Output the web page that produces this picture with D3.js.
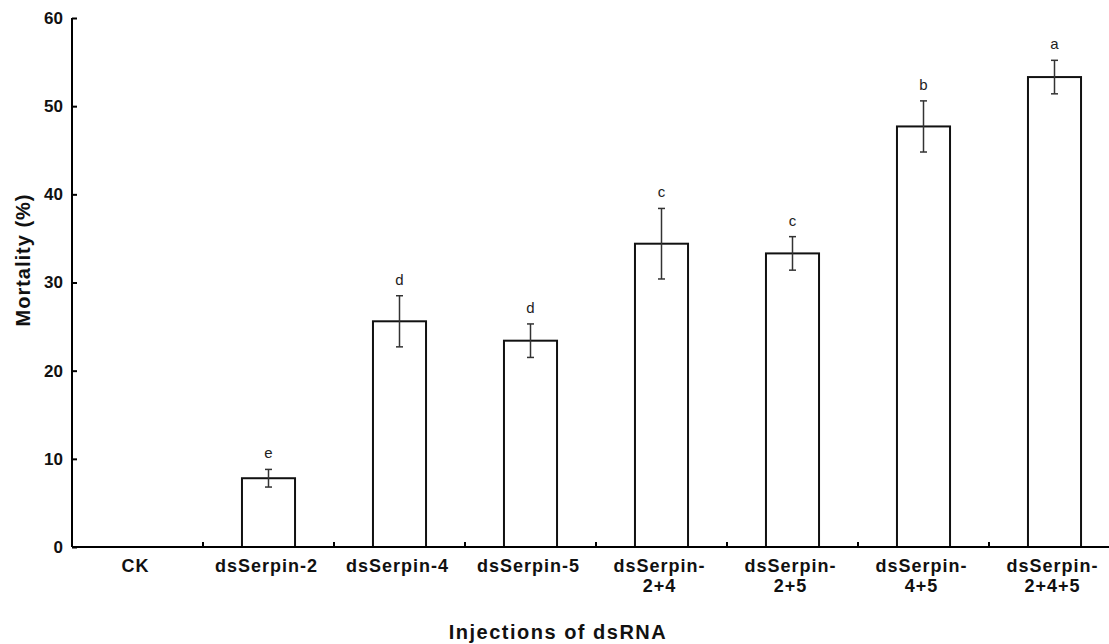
<!DOCTYPE html>
<html>
<head>
<meta charset="utf-8">
<script src="https://cdn.jsdelivr.net/npm/d3@7"></script>
<style>
  body { margin: 0; background: #fff; }
  svg { display: block; font-family: "Liberation Sans", Arial, sans-serif; }
</style>
</head>
<body>
<div id="chart"></div>
<script>
// data
const categories = ["CK", "dsSerpin-2", "dsSerpin-4", "dsSerpin-5", "dsSerpin-2+4", "dsSerpin-2+5", "dsSerpin-4+5", "dsSerpin-2+4+5"];
const labelLines = [["CK"], ["dsSerpin-2"], ["dsSerpin-4"], ["dsSerpin-5"], ["dsSerpin-", "2+4"], ["dsSerpin-", "2+5"], ["dsSerpin-", "4+5"], ["dsSerpin-", "2+4+5"]];
const mortality = [0, 7.8, 25.6, 23.4, 34.4, 33.3, 47.7, 53.3];
const errors = [0, 1.0, 2.9, 1.9, 4.0, 1.9, 2.9, 1.9];
const letters = ["", "e", "d", "d", "c", "c", "b", "a"];
const yTicks = [0, 10, 20, 30, 40, 50, 60];

const width = 1109, height = 644;
const plotLeft = 72, plotRight = 1120, plotTop = 18, plotBottom = 547;

const svg = d3.select("#chart").append("svg")
  .attr("width", width)
  .attr("height", height);

const x = d3.scaleBand().domain(categories).range([plotLeft, plotRight]).padding(0);
const y = d3.scaleLinear().domain([0, 60]).range([plotBottom, plotTop]);
const barW = x.bandwidth() * 0.405;

const rows = categories.map((c, i) => ({ cat: c, v: mortality[i], e: errors[i], l: letters[i], lines: labelLines[i] }));

// bars
svg.selectAll("rect.bar")
  .data(rows.filter(d => d.v > 0))
  .enter().append("rect")
  .attr("class", "bar")
  .attr("x", d => x(d.cat) + (x.bandwidth() - barW) / 2)
  .attr("y", d => y(d.v))
  .attr("width", barW)
  .attr("height", d => y(0) - y(d.v))
  .attr("fill", "#fff")
  .attr("stroke", "#111")
  .attr("stroke-width", 2);

// error bars
const eb = svg.selectAll("g.err")
  .data(rows.filter(d => d.e > 0))
  .enter().append("g")
  .attr("class", "err")
  .attr("stroke", "#333")
  .attr("stroke-width", 1.5);

const cx = d => x(d.cat) + x.bandwidth() / 2;
eb.append("line")
  .attr("x1", cx).attr("x2", cx)
  .attr("y1", d => y(d.v + d.e)).attr("y2", d => y(d.v - d.e));
eb.append("line")
  .attr("x1", d => cx(d) - 3.5).attr("x2", d => cx(d) + 3.5)
  .attr("y1", d => y(d.v + d.e)).attr("y2", d => y(d.v + d.e));
eb.append("line")
  .attr("x1", d => cx(d) - 3.5).attr("x2", d => cx(d) + 3.5)
  .attr("y1", d => y(d.v - d.e)).attr("y2", d => y(d.v - d.e));

// significance letters
svg.selectAll("text.sig")
  .data(rows.filter(d => d.l))
  .enter().append("text")
  .attr("class", "sig")
  .attr("x", cx)
  .attr("y", d => y(d.v + d.e) - 11)
  .attr("text-anchor", "middle")
  .attr("font-size", 15)
  .attr("fill", "#222")
  .text(d => d.l);

// y axis
const yAxis = svg.append("g")
  .attr("transform", `translate(${plotLeft},0)`)
  .call(d3.axisLeft(y).tickValues(yTicks).tickSize(-5).tickPadding(9).tickFormat(d3.format("d")));
yAxis.select(".domain").attr("stroke", "#000").attr("stroke-width", 2).attr("d", `M0,${plotTop}V${plotBottom}`);
yAxis.selectAll(".tick line").attr("stroke", "#000").attr("stroke-width", 2);
yAxis.selectAll(".tick text")
  .attr("font-size", 17).attr("font-weight", "bold").attr("fill", "#111")
  .attr("font-family", "Liberation Sans, Arial, sans-serif");

// x axis
const xAxis = svg.append("g")
  .attr("transform", `translate(0,${plotBottom})`)
  .call(d3.axisBottom(x).tickSize(0).tickFormat(""));
xAxis.select(".domain").attr("stroke", "#000").attr("stroke-width", 2).attr("d", `M${plotLeft},0H${plotRight}`);

// boundary ticks between categories
svg.selectAll("line.xtick")
  .data(categories.slice(1))
  .enter().append("line")
  .attr("class", "xtick")
  .attr("x1", d => x(d)).attr("x2", d => x(d))
  .attr("y1", plotBottom).attr("y2", plotBottom - 5)
  .attr("stroke", "#000").attr("stroke-width", 2);

// category labels
const catLabels = svg.selectAll("text.cat")
  .data(rows)
  .enter().append("text")
  .attr("class", "cat")
  .attr("text-anchor", "middle")
  .attr("font-size", 18)
  .attr("font-weight", "bold")
  .attr("letter-spacing", 1)
  .attr("fill", "#111");
catLabels.selectAll("tspan")
  .data(d => d.lines.map((t, j) => ({ t: t, j: j, c: d.cat })))
  .enter().append("tspan")
  .attr("x", d => x(d.c) + x.bandwidth() / 2 - 2)
  .attr("y", d => 572 + d.j * 20)
  .text(d => d.t);

// axis titles
svg.append("text")
  .attr("x", 558)
  .attr("y", 639)
  .attr("text-anchor", "middle")
  .attr("font-size", 20)
  .attr("font-weight", "bold")
  .attr("letter-spacing", 1.5)
  .attr("fill", "#111")
  .text("Injections of dsRNA");

svg.append("text")
  .attr("transform", "translate(30,260) rotate(-90)")
  .attr("text-anchor", "middle")
  .attr("font-size", 20)
  .attr("font-weight", "bold")
  .attr("letter-spacing", 1)
  .attr("fill", "#111")
  .text("Mortality (%)");
</script>
</body>
</html>
